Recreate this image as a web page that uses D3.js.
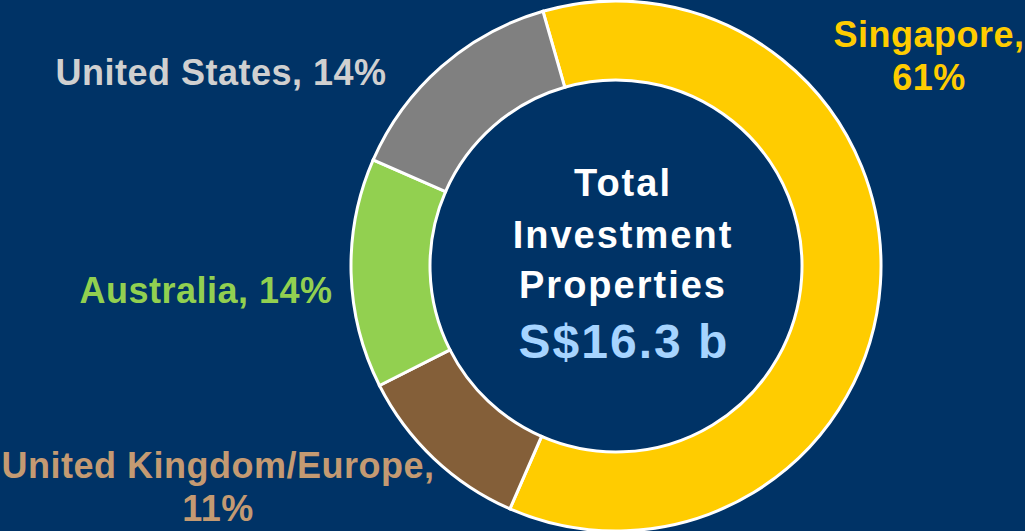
<!DOCTYPE html>
<html>
<head>
<meta charset="utf-8">
<script src="https://cdn.jsdelivr.net/npm/d3@7"></script>
<style>
  html, body { margin: 0; padding: 0; background: #003366; }
  svg { display: block; }
  text { font-family: "Liberation Sans", Arial, sans-serif; font-weight: bold; }
</style>
</head>
<body>
<div id="chart"></div>
<script>
// DATA
const regions = ["Singapore", "United Kingdom/Europe", "Australia", "United States"];
const shares = [61, 11, 14, 14];
const sliceColors = ["#ffcc00", "#845f39", "#92d050", "#808080"];
const labelColors = ["#ffcc00", "#c49a72", "#92d050", "#d0d0d0"];
// label lines, as split in the picture
const labelLines = [
  ["Singapore,", "61%"],
  ["United Kingdom/Europe,", "11%"],
  ["Australia, 14%"],
  ["United States, 14%"]
];
const centerLines = ["Total", "Investment", "Properties"];
const totalText = "S$16.3 b";

const w = 1025;
const h = 531;
const cx = 616, cy = 266;
const outerR = 265, innerR = 186;

const svg = d3.select("#chart")
  .append("svg")
  .attr("width", w)
  .attr("height", h);

svg.append("rect")
  .attr("width", w)
  .attr("height", h)
  .attr("fill", "#003366");

// PIE
const startDeg = -16;
const pie = d3.pie()
  .sort(null)
  .startAngle(startDeg * Math.PI / 180)
  .endAngle((startDeg + 360) * Math.PI / 180);

const arc = d3.arc()
  .innerRadius(innerR)
  .outerRadius(outerR);

const g = svg.append("g")
  .attr("transform", "translate(" + cx + "," + cy + ")");

g.selectAll("path")
  .data(pie(shares))
  .enter()
  .append("path")
  .attr("d", arc)
  .attr("fill", (d, i) => sliceColors[i])
  .attr("stroke", "#ffffff")
  .attr("stroke-width", 3);

// LABELS (outside positions)
const labelPos = [
  { x: 929, y: 47 },
  { x: 218, y: 478 },
  { x: 206, y: 303 },
  { x: 221, y: 85 }
];

regions.forEach((r, i) => {
  const t = svg.append("text")
    .attr("text-anchor", "middle")
    .attr("fill", labelColors[i])
    .style("font-size", "36px")
    .style("letter-spacing", "0.5px");
  labelLines[i].forEach((line, j) => {
    t.append("tspan")
      .attr("x", labelPos[i].x)
      .attr("y", labelPos[i].y + j * 43)
      .text(line);
  });
});

// CENTER TEXT
const centerY = [196, 248, 298];
centerLines.forEach((line, i) => {
  svg.append("text")
    .attr("x", cx + 7)
    .attr("y", centerY[i])
    .attr("text-anchor", "middle")
    .attr("fill", "#ffffff")
    .style("font-size", "38px")
    .style("letter-spacing", "2px")
    .text(line);
});

svg.append("text")
  .attr("x", cx + 8)
  .attr("y", 358)
  .attr("text-anchor", "middle")
  .attr("fill", "#a6d4ff")
  .style("font-size", "48px")
  .style("letter-spacing", "2px")
  .text(totalText);
</script>
</body>
</html>
